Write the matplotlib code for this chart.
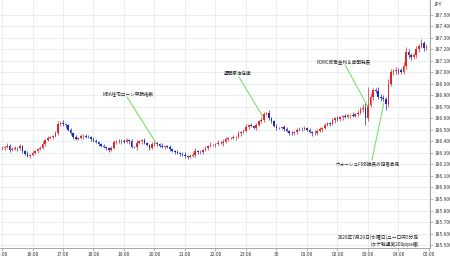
import matplotlib.pyplot as plt
import numpy as np

plt.rcParams['font.family'] = ['Noto Sans CJK JP', 'DejaVu Sans']

# EUR/JPY 5-minute candles from 15:00 (index 0) onward
first_open = 186.340
closes = [
    186.345, 186.352, 186.365, 186.330, 186.338, 186.345, 186.340, 186.362, 186.320, 186.295,
    186.278, 186.285, 186.300, 186.320, 186.335, 186.342, 186.380, 186.415, 186.430, 186.440,
    186.445, 186.470, 186.555, 186.565, 186.548, 186.540, 186.500, 186.470, 186.440, 186.425,
    186.430, 186.445, 186.452, 186.440, 186.438, 186.425, 186.405, 186.395, 186.380, 186.360,
    186.352, 186.345, 186.330, 186.345, 186.395, 186.405, 186.400, 186.408, 186.398, 186.410,
    186.400, 186.355, 186.350, 186.390, 186.400, 186.410, 186.385, 186.370, 186.345, 186.375,
    186.385, 186.378, 186.365, 186.355, 186.360, 186.350, 186.335, 186.320, 186.310, 186.300,
    186.295, 186.285, 186.270, 186.268, 186.272, 186.285, 186.315, 186.305, 186.310, 186.325,
    186.345, 186.360, 186.372, 186.368, 186.380, 186.390, 186.385, 186.395, 186.420, 186.430,
    186.428, 186.435, 186.440, 186.470, 186.480, 186.490, 186.530, 186.540, 186.535, 186.520,
    186.545, 186.575, 186.590, 186.640, 186.650, 186.600, 186.580, 186.535, 186.520, 186.518,
    186.525, 186.512, 186.490, 186.475, 186.470, 186.485, 186.500, 186.512, 186.508, 186.515,
    186.500, 186.485, 186.470, 186.478, 186.495, 186.505, 186.520, 186.545, 186.560, 186.555,
    186.585, 186.600, 186.592, 186.610, 186.620, 186.615, 186.628, 186.632, 186.625, 186.640,
    186.650, 186.680, 186.695, 186.600, 186.720, 186.790, 186.848, 186.840, 186.790, 186.780,
    186.770, 186.730, 186.900, 187.000, 187.010, 187.025, 187.018, 187.005, 187.060, 187.180,
    187.150, 187.135, 187.150, 187.200, 187.230, 187.255, 187.215, 187.225,
]
# wick lengths beyond the body, in pips
up_wick = [
    2, 1, 2, 1, 1, 2, 1, 2, 1, 1, 2, 1, 2, 1, 1, 2, 2, 1, 2, 1,
    1, 2, 2, 1, 2, 1, 1, 2, 1, 2, 1, 2, 1, 1, 2, 1, 1, 2, 1, 1,
    2, 1, 1, 2, 2, 1, 2, 1, 1, 2, 1, 2, 1, 2, 1, 1, 2, 1, 1, 2,
    2, 1, 1, 2, 1, 1, 2, 1, 1, 2, 1, 1, 2, 1, 2, 2, 3, 1, 2, 1,
    2, 1, 2, 1, 1, 2, 1, 3, 2, 1, 1, 2, 1, 2, 1, 2, 2, 1, 2, 1,
    2, 1, 2, 2, 1, 2, 1, 1, 2, 1, 1, 2, 1, 1, 2, 1, 2, 1, 1, 2,
    1, 2, 1, 2, 1, 2, 1, 2, 1, 1, 2, 1, 2, 1, 1, 2, 1, 1, 2, 1,
    2, 2, 3, 4, 15, 3, 2, 2, 3, 2, 2, 2, 4, 3, 2, 2, 1, 2, 3, 4,
    2, 2, 2, 3, 2, 4, 2, 2,
]
dn_wick = [
    1, 2, 1, 2, 1, 1, 2, 1, 2, 1, 1, 2, 1, 1, 2, 1, 1, 2, 1, 1,
    2, 1, 1, 2, 1, 2, 1, 1, 2, 1, 1, 1, 2, 1, 1, 2, 1, 1, 2, 1,
    1, 2, 2, 1, 1, 2, 1, 2, 1, 1, 2, 1, 1, 2, 1, 2, 1, 1, 2, 1,
    1, 2, 1, 1, 2, 1, 2, 1, 2, 1, 2, 1, 1, 2, 1, 1, 2, 1, 1, 2,
    1, 2, 1, 1, 2, 1, 1, 2, 1, 2, 1, 1, 2, 1, 2, 1, 1, 2, 1, 1,
    2, 1, 1, 2, 1, 1, 2, 1, 2, 1, 1, 2, 1, 2, 1, 1, 2, 1, 2, 1,
    1, 1, 2, 1, 2, 1, 2, 1, 1, 2, 1, 2, 1, 1, 2, 1, 1, 2, 1, 1,
    2, 1, 2, 6, 2, 2, 3, 2, 2, 3, 2, 6, 3, 2, 2, 2, 3, 2, 2, 3,
    2, 3, 2, 2, 2, 2, 3, 2,
]

hour_labels = ["15:00", "16:00", "17:00", "18:00", "19:00", "20:00", "21:00", "22:00",
               "23:00", "30", "01:00", "02:00", "03:00", "04:00", "05:00"]
price_ticks = [185.5, 185.6, 185.7, 185.8, 185.9, 186.0, 186.1, 186.2, 186.3, 186.4, 186.5,
               186.6, 186.7, 186.8, 186.9, 187.0, 187.1, 187.2, 187.3, 187.4, 187.5]

# events: label, text position (hours from 15:00, price), pointed location
event_labels = ["MBA住宅ローン申請指数", "週間原油在庫", "FOMC政策金利＆声明発表", "ウォーシュFRB議長の記者会見"]
event_text = [(4.13, 186.813), (7.74, 186.996), (11.21, 187.091), (12.00, 186.204)]
event_line_start = [(4.10, 186.787), (7.77, 186.961), (11.25, 187.065), (12.13, 186.239)]
event_line_end = [(5.05, 186.387), (8.56, 186.613), (12.00, 186.700), (12.52, 186.735)]

RED = "#e3262c"
BLUE = "#2228c4"
GRID = "#e2ecef"
GREEN = "#6fdc50"

closes = np.array(closes)
opens = np.concatenate([[first_open], closes[:-1]])
highs = np.maximum(opens, closes) + np.array(up_wick) * 0.01
lows = np.minimum(opens, closes) - np.array(dn_wick) * 0.01
t = np.arange(len(closes)) / 12.0
colors = [RED if c >= o else BLUE for o, c in zip(opens, closes)]

fig = plt.figure(figsize=(4.5, 2.58), dpi=100)
ax = fig.add_axes([0, 10 / 258, 430 / 450, 248 / 258])

ax.set_xticks(range(len(hour_labels)))
ax.set_xticklabels(hour_labels)
ax.set_yticks(price_ticks)
ax.set_yticklabels([f"{p:.3f}" for p in price_ticks])
ax.grid(True, color=GRID, linewidth=0.6)
ax.set_axisbelow(True)

ax.vlines(t, lows, highs, colors=colors, linewidth=0.5, zorder=2)
body_h = np.maximum(np.abs(closes - opens), 0.003)
ax.bar(t, body_h, bottom=np.minimum(opens, closes), width=0.65 / 12,
       color=colors, linewidth=0, zorder=3)

for lab, tp, ls, le in zip(event_labels, event_text, event_line_start, event_line_end):
    ax.plot([ls[0], le[0]], [ls[1], le[1]], color=GREEN, linewidth=0.7, zorder=4)
    ax.text(tp[0], tp[1], lab, fontsize=3.3, ha="center", va="center", color="#222222", zorder=5)

ax.text(0.974, 0.006, "2026年7月29日(水曜日)ユーロ円5分足\n(タテ軸通常200pips幅)",
        transform=ax.transAxes, fontsize=3.4, ha="right", va="bottom",
        linespacing=1.15, color="#222222")

ax.set_xlim(-0.0656, 14.033)
ax.set_ylim(185.474, 187.630)
ax.yaxis.tick_right()
for s in ["top", "left"]:
    ax.spines[s].set_visible(False)
for s in ["right", "bottom"]:
    ax.spines[s].set_color("#9a9a9a")
    ax.spines[s].set_linewidth(0.6)
ax.tick_params(labelsize=3.5, length=2, width=0.5, color="#9a9a9a",
               labelcolor="#333333", pad=1.2)

fig.text(438 / 450, 1 - 5 / 258, "JPY", fontsize=3.5, ha="center", va="center", color="#333333")

fig.savefig("out.png", dpi=100)
